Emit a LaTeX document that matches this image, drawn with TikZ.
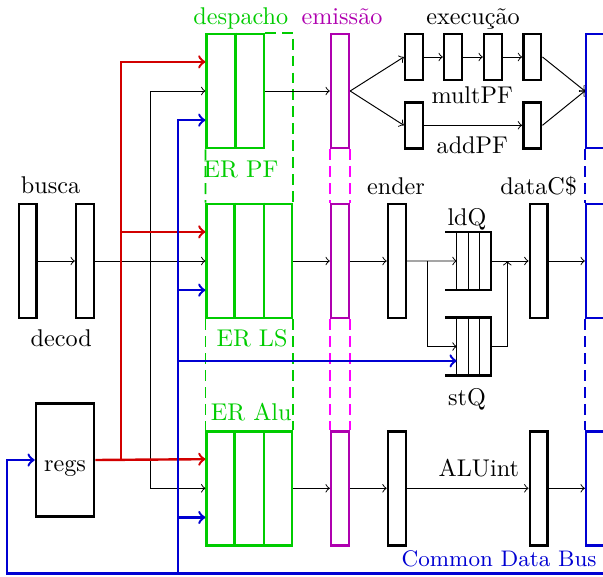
\documentclass[tikz,border=0pt]{standalone}
\usetikzlibrary{calc}
\definecolor{verde}{RGB}{0,204,0}
\definecolor{roxo}{RGB}{175,0,175}
\definecolor{rosa}{RGB}{255,0,255}
\definecolor{vermelho}{RGB}{210,0,0}
\definecolor{azul}{RGB}{0,0,210}
\tikzset{
  estagio/.style={draw,line width=1.05pt,inner sep=0pt,minimum width=7.35pt,minimum height=47.1pt},
  curto/.style={estagio,minimum height=19pt},
  er/.style={draw=verde,line width=1.05pt,inner sep=0pt,minimum height=47.1pt},
  fila/.style={inner sep=0pt,minimum width=18.6pt,minimum height=23.4pt},
  fio/.style={->,thin},
  bus/.style={->,line width=1pt},
  raia/.style={line width=0.7pt,dash pattern=on 4.5pt off 2.5pt},
  rotulo/.style={anchor=base,inner sep=0pt},
}
\begin{document}
\begin{tikzpicture}[x=0.4132pt,y=-0.4132pt]
\useasboundingbox (0,0) rectangle (603,576);
% busca, decod, regs
\node[estagio] (busca) at (27.8,261) {};
\node[estagio] (decod) at (85,261) {};
\node[draw,line width=1.05pt,inner sep=0pt,minimum width=24pt,minimum height=46.9pt] (regs) at (65,460) {};
\node[rotulo] (tbusca) at (50.5,193) {busca};
\node[rotulo] (tdecod) at (61.3,346.7) {decod};
\node[rotulo] (tregs) at (65,471.7) {regs};
% estacoes de reserva
\node[er,minimum width=23.7pt] (erpf) at (235.35,91) {};
\node[er,minimum width=35.25pt] (erls) at (249.35,261) {};
\node[er,minimum width=35.25pt] (eralu) at (249.35,488.3) {};
\draw[verde,line width=1.05pt] (erpf.north) -- (erpf.south);
\foreach \e in {erls,eralu}
  \foreach \f in {1/3,2/3}
    \draw[verde,line width=1.05pt] ($(\e.north west)!\f!(\e.north east)$) -- ($(\e.south west)!\f!(\e.south east)$);
\foreach \e in {erpf,erls,eralu}
  \foreach \k/\f in {1/0.25,2/0.5,3/0.75}
    \coordinate (\e-\k) at ($(\e.north west)!\f!(\e.south west)$);
\draw[verde,raia] (erpf.north east) -- (erls.north east |- erpf.north) -- (erls.north east);
\draw[verde,raia] (erpf.south west) -- (erls.north west);
\draw[verde,raia] (erls.south west) -- (eralu.north west);
\draw[verde,raia] (erls.south east) -- (eralu.north east);
\node[rotulo,verde] (tdesp) at (240.8,25) {despacho};
\node[rotulo,verde] (terpf) at (241,177.3) {ER PF};
\node[rotulo,verde] (terls) at (252,346) {ER LS};
\node[rotulo,verde] (teralu) at (251.3,420) {ER Alu};
% emissao
\node[estagio,draw=roxo] (em1) at (340,91) {};
\node[estagio,draw=roxo] (em2) at (340,261) {};
\node[estagio,draw=roxo] (em3) at (340,488.3) {};
\foreach \a/\b in {em1/em2,em2/em3} {
  \draw[rosa,raia] (\a.south west) -- (\b.north west);
  \draw[rosa,raia] (\a.south east) -- (\b.north east);
}
\node[rotulo,roxo] (temis) at (342,25) {emissão};
% execucao
\foreach \x [count=\i] in {414,453,493,532.3}
  \node[curto] (mult\i) at (\x,57) {};
\node[curto] (add1) at (414,125.3) {};
\node[curto] (add2) at (532.3,125.3) {};
\node[estagio] (ender) at (396.9,261) {};
\node[estagio] (dataC) at (538.7,261) {};
\node[estagio] (alu1) at (396.9,488.3) {};
\node[estagio] (alu2) at (538.7,488.3) {};
\node[fila] (ldq) at (468.2,261) {};
\node[fila] (stq) at (468.2,346.5) {};
\foreach \q in {ldq,stq} {
  \draw[line width=1.05pt] (\q.north west) -- (\q.north east) -- (\q.south east) -- (\q.south west);
  \foreach \f in {0.25,0.5,0.75}
    \draw[thin] ($(\q.north west)!\f!(\q.north east)$) -- ($(\q.south west)!\f!(\q.south east)$);
  \coordinate (\q-in) at ($(\q.west)!0.25!(\q.east)$);
}
\coordinate (stq-bus) at ($(stq.north west)!0.75!(stq.south west)$);
\node[rotulo] (texec) at (473,25) {execução};
\node[rotulo] (tmult) at (472.2,103.3) {multPF};
\node[rotulo] (tadd) at (472.3,153.3) {addPF};
\node[rotulo] (tender) at (396,194) {ender};
\node[rotulo] (tdata) at (538.7,194) {dataC\$};
\node[rotulo] (tldq) at (467,225.7) {ldQ};
\node[rotulo] (tstq) at (467,405) {stQ};
\node[rotulo] (talu) at (478.8,476.7) {ALUint};
% common data bus
\node[estagio,draw=azul] (cdb1) at (595,91) {};
\node[estagio,draw=azul] (cdb2) at (595,261) {};
\node[estagio,draw=azul] (cdb3) at (595,488.3) {};
\foreach \a/\b in {cdb1/cdb2,cdb2/cdb3} {
  \draw[azul,raia] (\a.south west) -- (\b.north west);
  \draw[azul,raia] (\a.south east) -- (\b.north east);
}
\node[rotulo,anchor=base east,azul,font=\fontsize{9.3pt}{11pt}\selectfont] (tcdb) at (597,566.7) {Common Data Bus};
% ligacoes
\coordinate (barvm) at (121,0);
\coordinate (barpt) at (150,0);
\coordinate (baraz) at (178,0);
\coordinate (cdbfim) at (620,573.3);
\coordinate (cdbesq) at (7,573.3);
\coordinate (ramo) at (427.7,261);
\coordinate (junta) at (507.3,261);
\draw[fio] (busca.east) -- (decod.west);
\draw[fio] (decod.east) -- (erls-2);
\draw[fio] (barpt |- erls-2) |- (erpf-2);
\draw[fio] (barpt |- erls-2) |- (eralu-2);
\draw[bus,vermelho] (regs.east) -- (eralu-1);
\draw[bus,vermelho] (barvm |- eralu-1) |- (erpf-1);
\draw[bus,vermelho] (barvm |- erls-1) -- (erls-1);
\draw[bus,azul] (cdbfim) -- (cdbesq) |- (regs.west);
\draw[bus,azul] (baraz |- cdbesq) |- (erpf-3);
\draw[bus,azul] (baraz |- erls-3) -- (erls-3);
\draw[bus,azul] (baraz |- eralu-3) -- (eralu-3);
\draw[bus,azul] (baraz |- stq-bus) -- (stq-in |- stq-bus);
\draw[fio] (erpf.east) -- (em1.west);
\draw[fio] (erls.east) -- (em2.west);
\draw[fio] (eralu.east) -- (em3.west);
\draw[fio] (em1.east) -- (mult1.west);
\draw[fio] (em1.east) -- (add1.west);
\foreach \a/\b in {1/2,2/3,3/4}
  \draw[fio] (mult\a.east) -- (mult\b.west);
\draw[fio] (add1.east) -- (add2.west);
\draw[fio] (mult4.east) -- (cdb1.west);
\draw[fio] (add2.east) -- (cdb1.west);
\draw[fio] (em2.east) -- (ender.west);
\draw[fio] (ender.east) -- (ldq-in);
\draw[fio] (ramo) |- (stq-in);
\draw[fio] (ldq.east) -- (dataC.west);
\draw[fio] (stq.east) -| (junta);
\draw[fio] (dataC.east) -- (cdb2.west);
\draw[fio] (em3.east) -- (alu1.west);
\draw[fio] (alu1.east) -- (alu2.west);
\draw[fio] (alu2.east) -- (cdb3.west);
\end{tikzpicture}
\end{document}
